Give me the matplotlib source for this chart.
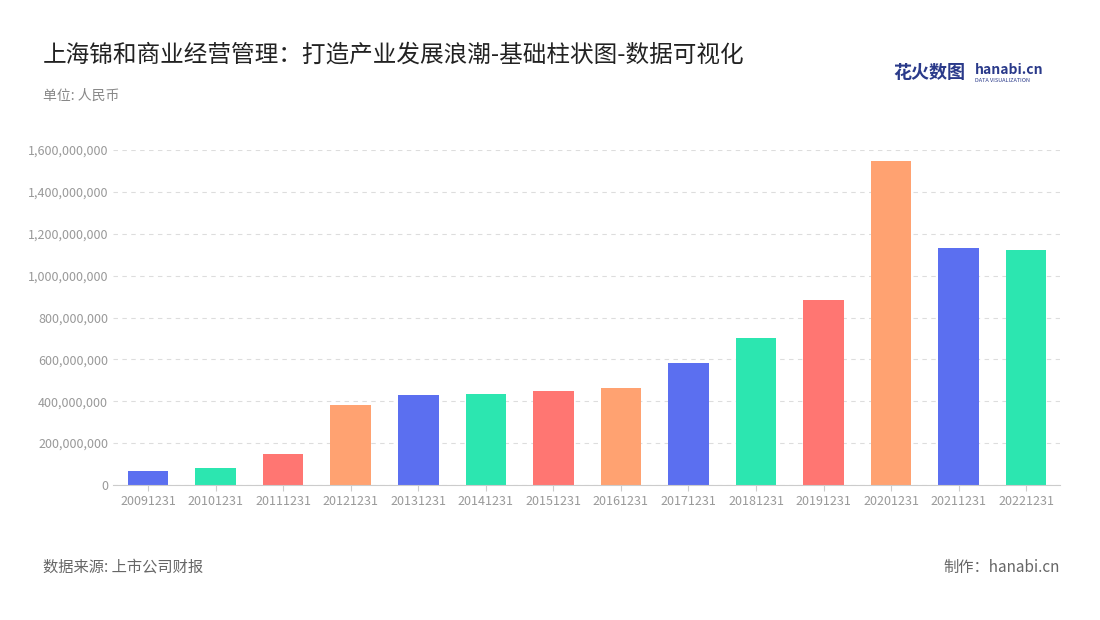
import matplotlib
matplotlib.use("Agg")
import matplotlib.pyplot as plt
from matplotlib.ticker import FuncFormatter

plt.rcParams['font.family'] = ['Noto Sans CJK SC', 'DejaVu Sans']

years = ["20091231","20101231","20111231","20121231","20131231","20141231","20151231",
         "20161231","20171231","20181231","20191231","20201231","20211231","20221231"]
values = [67e6, 81e6, 148e6, 382e6, 430e6, 435e6, 449e6, 463e6, 583e6, 702e6, 884e6,
          1547e6, 1132e6, 1122e6]
palette = ["#5B6FF0", "#2CE6B0", "#FF7672", "#FFA271"]

fig = plt.figure(figsize=(11, 6.2), dpi=100)
ax = fig.add_axes([113/1100, 1-485/620, (1060-113)/1100, 335/620])
colors = [palette[i % 4] for i in range(len(values))]
ax.bar(range(len(values)), values, width=0.6, color=colors, zorder=2)
ax.set_xlim(-0.52, len(values)-0.5)
ax.set_ylim(0, 1.6e9)
ax.set_yticks([i*2e8 for i in range(9)])
ax.yaxis.set_major_formatter(FuncFormatter(lambda v, p: f"{int(v):,}"))
ax.set_xticks(range(len(values)))
ax.set_xticklabels(years)
ax.tick_params(axis='both', colors='#999999', labelsize=9, length=0)
ax.tick_params(axis='x', length=4, color='#cccccc')
ax.grid(axis='y', linestyle=(0, (4, 4)), color='#dddddd', zorder=0)
for s in ['top', 'right', 'left']:
    ax.spines[s].set_visible(False)
ax.spines['bottom'].set_color('#cccccc')

fig.text(43/1100, 1-55/620, "上海锦和商业经营管理：打造产业发展浪潮-基础柱状图-数据可视化",
         fontsize=17, color='#222222', va='center')
fig.text(43/1100, 1-96/620, "单位: 人民币", fontsize=10, color='#888888', va='center')
fig.text(43/1100, 1-567/620, "数据来源: 上市公司财报", fontsize=11, color='#666666', va='center')
fig.text(1060/1100, 1-567/620, "制作：hanabi.cn", fontsize=11, color='#666666', va='center', ha='right')
fig.text(893/1100, 1-72/620, "花火数图", fontsize=13, color='#2a3a8a', va='center', weight='bold')
fig.text(975/1100, 1-70/620, "hanabi.cn", fontsize=10, color='#2a3a8a', va='center', weight='bold')
fig.text(975/1100, 1-80/620, "DATA VISUALIZATION", fontsize=4, color='#2a3a8a', va='center')
fig.savefig("out.png", dpi=100)
